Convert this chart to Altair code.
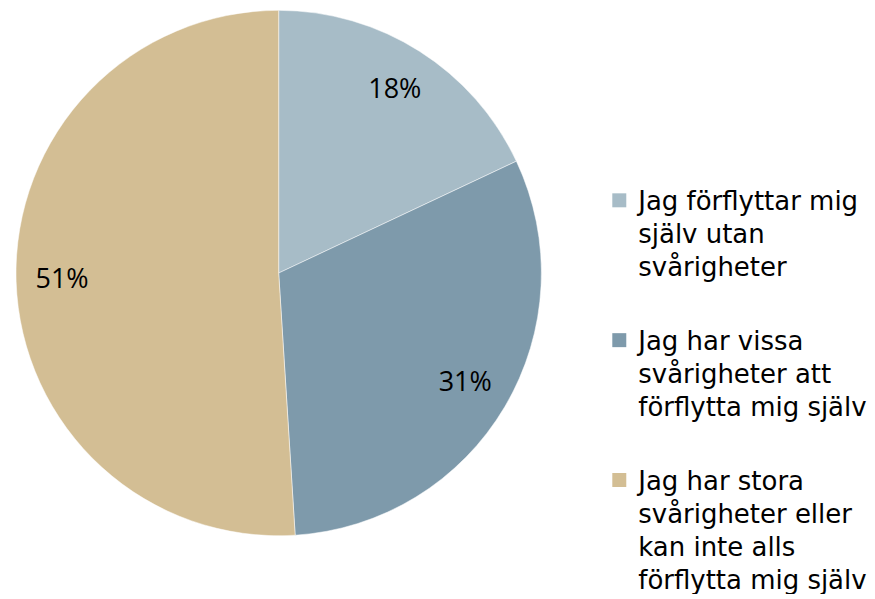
import altair as alt
import pandas as pd

categories = [
    "Jag förflyttar mig|själv utan|svårigheter",
    "Jag har vissa|svårigheter att|förflytta mig själv",
    "Jag har stora|svårigheter eller|kan inte alls|förflytta mig själv",
]
values = [18, 31, 51]
labels = ["18%", "31%", "51%"]
colors = ["#A7BCC7", "#7E9AAB", "#D3BE94"]

df = pd.DataFrame({"cat": categories, "value": values, "label": labels, "order": [0, 1, 2]})

base = alt.Chart(df).encode(
    theta=alt.Theta("value:Q", stack=True),
    order=alt.Order("order:Q"),
)

pie = base.mark_arc(outerRadius=263, stroke="white", strokeWidth=0.5).encode(
    color=alt.Color(
        "cat:N",
        sort=categories,
        scale=alt.Scale(domain=categories, range=colors),
        legend=alt.Legend(
            title=None,
            orient="none",
            legendX=599,
            legendY=168,
            symbolType="M-1,0.6H1V2.6H-1Z",
            symbolSize=196,
            symbolStrokeWidth=0,
            labelExpr="split(datum.label, '|')",
            labelFont="DejaVu Sans",
            labelFontSize=26,
            labelColor="#000000",
            labelBaseline="top",
            labelLimit=400,
            labelOffset=6,
            rowPadding=35,
        ),
    )
)

text = base.mark_text(radius=217, font="Open Sans", fontSize=27, color="#000000").encode(
    text="label:N"
)

chart = (
    alt.layer(pie, text)
    .properties(width=542, height=530)
    .configure_view(stroke=None)
    .configure(padding=0, style={"guide-label": {"lineHeight": 33}})
)

chart.save("out.html", embed_options={"renderer": "svg", "actions": False})
